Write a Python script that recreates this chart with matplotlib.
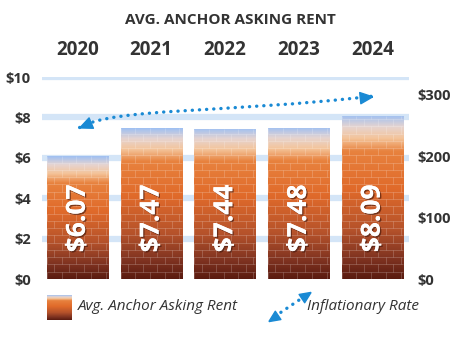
import numpy as np
import matplotlib
matplotlib.use('Agg')
import matplotlib.pyplot as plt
from matplotlib.colors import LinearSegmentedColormap
from matplotlib.collections import LineCollection
from matplotlib.patches import Rectangle, FancyArrowPatch
from matplotlib.lines import Line2D
from matplotlib.markers import MarkerStyle
from matplotlib.path import Path
from matplotlib.transforms import IdentityTransform
import matplotlib.patheffects as pe

# data
years = ['2020', '2021', '2022', '2023', '2024']
rent = [6.07, 7.47, 7.44, 7.48, 8.09]
rent_labels = ['$6.07', '$7.47', '$7.44', '$7.48', '$8.09']
left_ticks = [0, 2, 4, 6, 8, 10]
right_ticks = [0, 100, 200, 300]
# inflationary rate arrow (x index, left-axis value): start, two bezier controls, end
arrow_pts = [(0.03, 7.5), (0.5, 8.5), (2.0, 8.2), (4.0, 9.05)]

txt = '#333333'
blue = '#1a8ad4'
grid_c = '#d4e5f7'
font = ['Open Sans', 'DejaVu Sans']

brick = LinearSegmentedColormap.from_list('brick', [
    (0.00, '#5a1b10'),
    (0.12, '#7e3220'),
    (0.30, '#b5522b'),
    (0.55, '#e06a2a'),
    (0.78, '#e8823e'),
    (0.86, '#f4c49a'),
    (0.93, '#e6d4d0'),
    (1.00, '#9fc0f2'),
])
grad = np.linspace(0, 1, 256).reshape(-1, 1)

fig = plt.figure(figsize=(4.6, 3.45), dpi=100)
ax = fig.add_axes([0.0913, 0.1913, 0.798, 0.5855])
ax.set_xlim(-0.48, 4.5)
ax.set_ylim(0, 10)

w = 0.83
for i, v in enumerate(rent):
    x0 = i - w / 2
    im = ax.imshow(grad, cmap=brick, origin='lower', aspect='auto',
                   extent=(x0, x0 + w, 0, v), zorder=2, interpolation='bilinear')
    rect = Rectangle((x0, 0), w, v, transform=ax.transData, fc='none', ec='none')
    ax.add_patch(rect)
    im.set_clip_path(rect)
    # brick joints
    segs = []
    rows = np.arange(0, v, 0.36)
    for k, r in enumerate(rows):
        segs.append([(x0, r), (x0 + w, r)])
        off = 0.1 if k % 2 else 0.0
        for bx in np.arange(x0 + off, x0 + w, 0.2):
            segs.append([(bx, r), (bx, min(r + 0.36, v))])
    lc = LineCollection(segs, colors='white', linewidths=0.6, alpha=0.22, zorder=3)
    lc.set_clip_path(rect)
    ax.add_collection(lc)
    ax.text(i, 3.0, rent_labels[i], rotation=90, ha='center', va='center',
            color='white', fontsize=19, fontweight='bold', family=font, zorder=5,
            path_effects=[pe.withSimplePatchShadow(offset=(1, -1), shadow_rgbFace='#3a1208', alpha=0.6),
                          pe.Normal()])

for t in left_ticks[1:]:
    ax.axhline(t, color=grid_c, lw=4.5, zorder=1)

ax.set_xlim(-0.48, 4.5)
ax.set_ylim(0, 10)

head_path = Path([(0.5, 0), (-0.5, 0.45), (-0.5, -0.45), (0.5, 0)])


def head(tip_px, tail_px, size=9):
    # arrowhead in pixel space, tip exactly at tip_px
    d = np.asarray(tip_px, float) - np.asarray(tail_px, float)
    u = d / np.hypot(*d)
    ang = np.degrees(np.arctan2(u[1], u[0]))
    c = tip_px - u * size * 100 / 72 / 2
    return Line2D([c[0]], [c[1]], marker=MarkerStyle(head_path).rotated(deg=ang),
                  markersize=size, color=blue, lw=0, transform=IdentityTransform(), zorder=7)


# dotted curved double arrow
dot_style = dict(color=blue, lw=2.4, linestyle=(0, (0.05, 2.1)), capstyle='round')
curve = Path(arrow_pts, [Path.MOVETO, Path.CURVE4, Path.CURVE4, Path.CURVE4])
ax.add_patch(FancyArrowPatch(path=curve, arrowstyle='-', zorder=6, **dot_style))
p0, c1, c2, p3 = [np.array(p) for p in arrow_pts]
T = ax.transData.transform
# direction of each end from a point a little way along the curve
near0 = 0.9 ** 3 * p0 + 3 * 0.1 * 0.81 * c1 + 3 * 0.01 * 0.9 * c2 + 0.001 * p3
near3 = 0.001 * p0 + 3 * 0.01 * 0.9 * c1 + 3 * 0.81 * 0.1 * c2 + 0.9 ** 3 * p3
fig.lines.append(head(T(p3), T(near3)))
fig.lines.append(head(T(p0), T(near0)))

ax.set_yticks(left_ticks)
ax.set_yticklabels(['$%d' % t for t in left_ticks], fontsize=10.5, fontweight='bold',
                   color=txt, family=font)
ax.tick_params(axis='y', length=0, pad=8)
ax.set_xticks(range(len(years)))
ax.set_xticklabels(years, fontsize=13.5, fontweight='bold', color=txt, family=font)
ax.xaxis.tick_top()
ax.tick_params(axis='x', length=0, pad=12)
for s in ax.spines.values():
    s.set_visible(False)

ax2 = ax.twinx()
ax2.set_ylim(0, 329)
ax2.set_yticks(right_ticks)
ax2.set_yticklabels(['$%d' % t for t in right_ticks], fontsize=10.5, fontweight='bold',
                    color=txt, family=font)
ax2.tick_params(axis='y', length=0, pad=6)
for s in ax2.spines.values():
    s.set_visible(False)

fig.text(0.5, 0.942, 'AVG. ANCHOR ASKING RENT', ha='center', va='center',
         fontsize=11, fontweight='bold', color=txt, family=font)

# legend
lax = fig.add_axes([47 / 460, 1 - 320 / 345, 25 / 460, 25 / 345])
lax.imshow(grad, cmap=brick, origin='lower', aspect='auto', extent=(0, 1, 0, 1))
lax.axis('off')
fig.text(78 / 460, 1 - 307 / 345, 'Avg. Anchor Asking Rent', ha='left', va='center',
         fontsize=11, style='italic', color=txt, family=font)
la, lb = np.array([268.0, 345 - 321.0]), np.array([311.0, 345 - 292.0])
fig.patches.append(FancyArrowPatch(la, lb, transform=IdentityTransform(), arrowstyle='-',
                                   shrinkA=6, shrinkB=6, **dot_style))
fig.lines.append(head(lb, la, size=8))
fig.lines.append(head(la, lb, size=8))
fig.text(307 / 460, 1 - 307 / 345, 'Inflationary Rate', ha='left', va='center',
         fontsize=11, style='italic', color=txt, family=font)

fig.savefig('out.png', dpi=100, facecolor='white')
